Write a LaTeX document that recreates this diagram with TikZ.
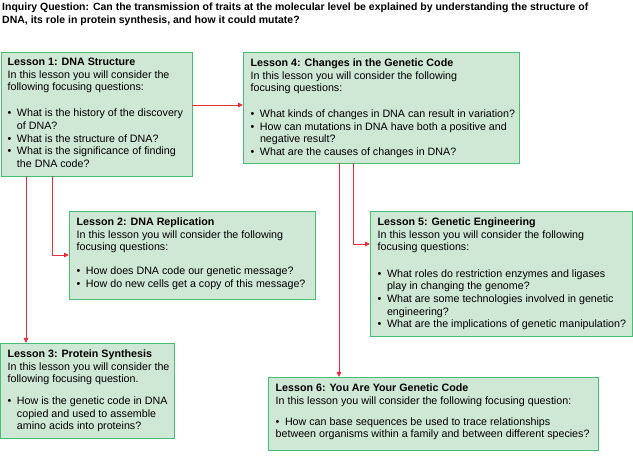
\documentclass[tikz,border=0pt]{standalone}
\usepackage{fontspec}
\setmainfont{Liberation Sans}
\usetikzlibrary{arrows.meta}
\definecolor{boxfill}{RGB}{207,231,213}
\definecolor{boxline}{RGB}{72,190,112}
\definecolor{conn}{RGB}{234,45,58}
\newcommand{\bul}{\makebox[9.3pt][l]{\textbullet}}
\newcommand{\cont}{\hspace*{9.3pt}}
\begin{document}
\begin{tikzpicture}[x=1pt,y=-1pt,
  lesson/.style={draw=boxline,fill=boxfill,line width=0.9pt,anchor=north west,inner sep=0pt,outer sep=0pt},
  ltext/.style={anchor=north west,inner sep=0pt,align=left,font=\fontsize{10.7}{12.6}\selectfont},
  link/.style={draw=conn,line width=0.8pt,-{Triangle[length=5pt,width=4.5pt]}}]
\useasboundingbox (0,0) rectangle (633,468);
\node[anchor=north west,inner sep=0pt,align=left,font=\bfseries\fontsize{10.5}{13}\selectfont] (iq) at (2,2.5)
 {Inquiry Question: Can the transmission of traits at the molecular level be explained by understanding the structure of\\
  DNA, its role in protein synthesis, and how it could mutate?};
% boxes
\node[lesson,minimum width=191pt,minimum height=124pt] (b1) at (1,52) {};
\node[lesson,minimum width=246pt,minimum height=88pt] (b2) at (69,211) {};
\node[lesson,minimum width=173.5pt,minimum height=95pt] (b3) at (0.5,343) {};
\node[lesson,minimum width=276pt,minimum height=111pt] (b4) at (243,52) {};
\node[lesson,minimum width=262pt,minimum height=125pt] (b5) at (370,211) {};
\node[lesson,minimum width=330pt,minimum height=73pt] (b6) at (268,377) {};
% texts
\node[ltext] (t1) at ([xshift=6.5pt,yshift=-6pt]b1.north west) {\textbf{Lesson 1: DNA Structure}\\
In this lesson you will consider the\\
following focusing questions:\\[13.5pt]
\bul What is the history of the discovery\\
\cont of DNA?\\
\bul What is the structure of DNA?\\
\bul What is the significance of finding\\
\cont the DNA code?};
\node[ltext] (t2) at ([xshift=7.5pt,yshift=-6.5pt]b2.north west) {\textbf{Lesson 2: DNA Replication}\\
In this lesson you will consider the following\\
focusing questions:\\[11.5pt]
\bul How does DNA code our genetic message?\\
\bul How do new cells get a copy of this message?};
\node[ltext] (t3) at ([xshift=7pt,yshift=-6.5pt]b3.north west) {\textbf{Lesson 3: Protein Synthesis}\\
In this lesson you will consider the\\
following focusing question.\\[9.5pt]
\bul How is the genetic code in DNA\\
\cont copied and used to assemble\\
\cont amino acids into proteins?};
\node[ltext] (t4) at ([xshift=7.5pt,yshift=-6.5pt]b4.north west) {\textbf{Lesson 4: Changes in the Genetic Code}\\
In this lesson you will consider the following\\
focusing questions:\\[13.5pt]
\bul What kinds of changes in DNA can result in variation?\\
\bul How can mutations in DNA have both a positive and\\
\cont negative result?\\
\bul What are the causes of changes in DNA?};
\node[ltext] (t5) at ([xshift=7.5pt,yshift=-6.5pt]b5.north west) {\textbf{Lesson 5: Genetic Engineering}\\
In this lesson you will consider the following\\
focusing questions:\\[14pt]
\bul What roles do restriction enzymes and ligases\\
\cont play in changing the genome?\\
\bul What are some technologies involved in genetic\\
\cont engineering?\\
\bul What are the implications of genetic manipulation?};
\node[ltext] (t6) at ([xshift=7.5pt,yshift=-6.5pt]b6.north west) {\textbf{Lesson 6: You Are Your Genetic Code}\\
In this lesson you will consider the following focusing question:\\[8.5pt]
\bul How can base sequences be used to trace relationships\\
between organisms within a family and between different species?};
% connectors
\draw[link] ([yshift=-53pt]b1.north east) -- ([yshift=-53pt]b4.north west);
\draw[link] ([xshift=51pt]b1.south west) |- (b2.west);
\draw[link] ([xshift=25pt]b1.south west) -- ([xshift=25.5pt]b3.north west);
\draw[link] ([xshift=110pt]b4.south west) |- ([yshift=-33pt]b5.north west);
\draw[link] ([xshift=96pt]b4.south west) -- ([xshift=71pt]b6.north west);
\end{tikzpicture}
\end{document}
